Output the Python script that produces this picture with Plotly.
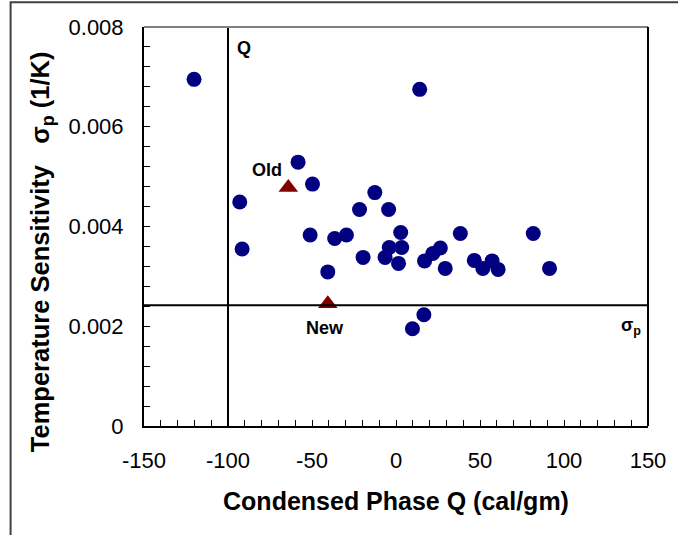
import plotly.graph_objects as go

# Data
q_values = [-120.2, 14.1, -58.3, -49.7, -93.0, -91.6, -51.1, -36.5, -29.5, -40.6,
            -21.7, -12.6, -4.4, 2.8, -19.6, -6.5, -4.0, 3.4, 1.5, 17.0,
            21.9, 26.4, 29.3, 38.3, 46.6, 51.7, 57.2, 60.8, 81.7, 91.4,
            9.8, 16.6]
sigma_values = [0.00695, 0.00675, 0.00529, 0.00485, 0.00449, 0.00355, 0.00383, 0.00376, 0.00383, 0.00309,
                0.00434, 0.00468, 0.00434, 0.00388, 0.00338, 0.00338, 0.00358, 0.00358, 0.00326, 0.00331,
                0.00346, 0.00357, 0.00316, 0.00386, 0.00332, 0.00316, 0.00331, 0.00314, 0.00386, 0.00316,
                0.00195, 0.00223]
tri_labels = ["Old", "New"]
tri_q = [-64.1, -40.6]
tri_sigma = [0.00478, 0.00245]

q_ref = -100
sigma_ref = 0.00242

x_range = [-150, 150]
y_range = [0, 0.008]
x_ticks = [-150, -100, -50, 0, 50, 100, 150]
x_tick_text = ["-150", "-100", "-50", "0", "50", "100", "150"]
y_ticks = [0, 0.002, 0.004, 0.006, 0.008]
y_tick_text = ["0", "0.002", "0.004", "0.006", "0.008"]

FONT = "Liberation Sans, Arial, sans-serif"

fig = go.Figure()
fig.add_trace(go.Scatter(x=q_values, y=sigma_values, mode="markers",
                         marker=dict(color="#000080", size=15, line=dict(width=0)),
                         showlegend=False, cliponaxis=False))
fig.add_trace(go.Scatter(x=tri_q, y=tri_sigma, mode="markers",
                         marker=dict(color="#800000", symbol="triangle-up", size=17, line=dict(width=0)),
                         showlegend=False, cliponaxis=False))

# reference lines
fig.add_shape(type="line", xref="x", yref="y", x0=q_ref, x1=q_ref, y0=y_range[0], y1=y_range[1],
              line=dict(color="black", width=2))
fig.add_shape(type="line", xref="x", yref="y", x0=x_range[0], x1=x_range[1], y0=sigma_ref, y1=sigma_ref,
              line=dict(color="black", width=2))
# plot frame: gray top, black right
fig.add_shape(type="line", xref="paper", yref="paper", x0=0, x1=1, y0=1, y1=1,
              line=dict(color="#808080", width=2))
fig.add_shape(type="line", xref="paper", yref="paper", x0=1, x1=1, y0=0, y1=1,
              line=dict(color="black", width=2))
# outer figure frame
fig.add_shape(type="rect", xref="paper", yref="paper", x0=-0.2647, x1=1.3, y0=-0.5, y1=1.062,
              line=dict(color="#404040", width=2))

ann_font = dict(family=FONT, size=18, color="black")
fig.add_annotation(x=-90.4, y=0.00757, text="<b>Q</b>", showarrow=False, font=ann_font)
fig.add_annotation(x=-77, y=0.00513, text="<b>%s</b>" % tri_labels[0], showarrow=False, font=ann_font)
fig.add_annotation(x=-42.5, y=0.00196, text="<b>%s</b>" % tri_labels[1], showarrow=False, font=ann_font)
fig.add_annotation(x=139.7, y=0.00200, text="<b>σ<sub>p</sub></b>", showarrow=False, font=ann_font)

# y-axis title (placed as annotation to match the reference offset)
fig.add_annotation(xref="paper", yref="paper", x=-0.2025, y=0.438, xanchor="center", yanchor="middle",
                   textangle=-90, showarrow=False,
                   text="<b>Temperature Sensitivity   σ<sub>p</sub> (1/K)</b>",
                   font=dict(family=FONT, size=25.5, color="black"))

fig.update_layout(
    width=678, height=535,
    margin=dict(l=144, r=20, t=27, b=109),
    plot_bgcolor="white", paper_bgcolor="white",
    font=dict(family=FONT, color="black"),
    xaxis=dict(range=x_range, tickvals=x_ticks, ticktext=x_tick_text, ticks="inside", ticklen=6, tickwidth=1,
               tickcolor="black", showline=True, linecolor="black", linewidth=2,
               showgrid=False, zeroline=False, tickfont=dict(size=22),
               ticklabelstandoff=14,
               minor=dict(dtick=10, ticks="inside", ticklen=6, tickcolor="black", showgrid=False),
               title=dict(text="<b>Condensed Phase Q (cal/gm)</b>", font=dict(size=25), standoff=20)),
    yaxis=dict(range=y_range, tickvals=y_ticks, ticktext=y_tick_text, ticks="inside", ticklen=6,
               tickwidth=1, tickcolor="black", showline=True, linecolor="black", linewidth=2,
               showgrid=False, zeroline=False, tickfont=dict(size=22),
               ticklabelstandoff=14,
               minor=dict(dtick=0.0004, ticks="inside", ticklen=6, tickcolor="black", showgrid=False)),
)

fig.write_html("out.html")
